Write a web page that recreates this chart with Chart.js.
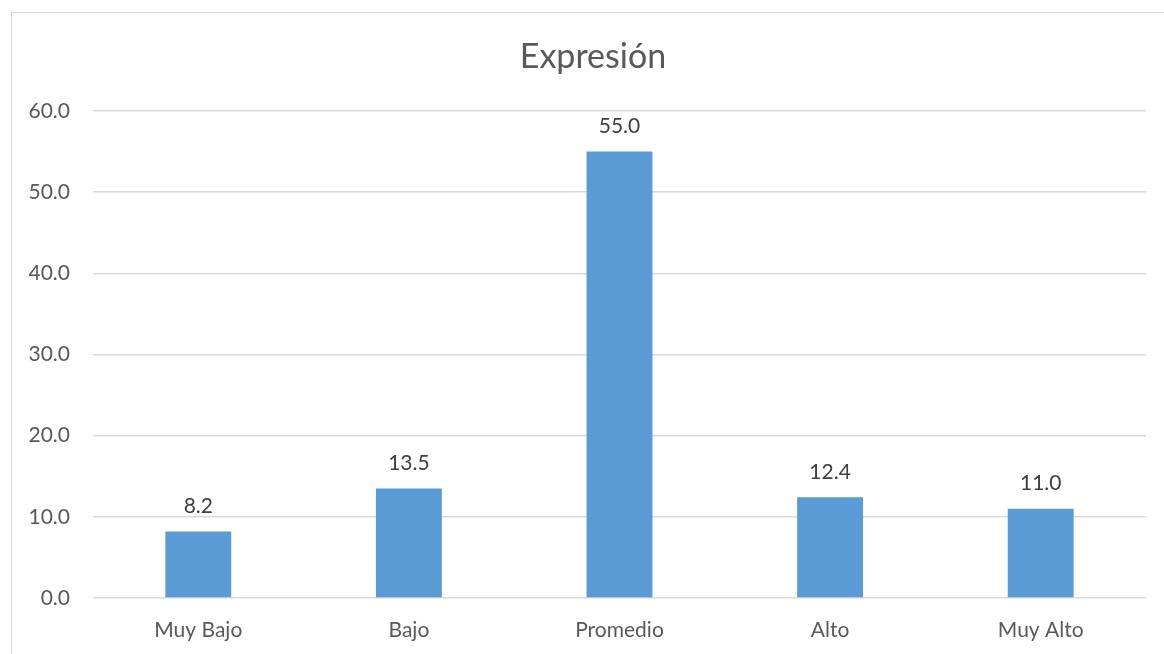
<!DOCTYPE html>
<html>
<head>
<meta charset="utf-8">
<script src="https://cdn.jsdelivr.net/npm/chart.js@4/dist/chart.umd.min.js"></script>
<style>
  body { margin: 0; background: #fff; }
  #wrap { width: 1164px; height: 654px; }
</style>
</head>
<body>
<div id="wrap"><canvas id="chart"></canvas></div>
<script>
const categories = ['Muy Bajo', 'Bajo', 'Promedio', 'Alto', 'Muy Alto'];
const values = [8.2, 13.5, 55.0, 12.4, 11.0];
const yTicks = [0, 10, 20, 30, 40, 50, 60];
const titleText = 'Expresión';

const FONT = 'Lato, "Open Sans", sans-serif';

// outer frame of the chart object (only left and top edges are visible) + title
const frame = {
    id: 'frame',
    beforeDraw(chart) {
        const ctx = chart.ctx;
        ctx.save();
        ctx.strokeStyle = '#d9d9d9';
        ctx.lineWidth = 1;
        ctx.strokeRect(11.5, 12.5, 1300, 800);
        ctx.font = '34px ' + FONT;
        ctx.fillStyle = '#595959';
        ctx.textAlign = 'center';
        ctx.textBaseline = 'middle';
        ctx.fillText(titleText, 593, 57);
        ctx.restore();
    }
};

// value labels above each bar
const barLabels = {
    id: 'barLabels',
    afterDatasetsDraw(chart) {
        const ctx = chart.ctx;
        const meta = chart.getDatasetMeta(0);
        ctx.save();
        ctx.font = '21px ' + FONT;
        ctx.fillStyle = '#404040';
        ctx.textAlign = 'center';
        ctx.textBaseline = 'middle';
        meta.data.forEach((bar, i) => {
            ctx.fillText(values[i].toFixed(1), bar.x, bar.y - 25);
        });
        ctx.restore();
    }
};

new Chart(document.getElementById('chart'), {
    type: 'bar',
    data: {
        labels: categories,
        datasets: [{
            data: values,
            backgroundColor: '#5b9bd5',
            borderWidth: 0,
            categoryPercentage: 1,
            barPercentage: 0.313
        }]
    },
    options: {
        responsive: true,
        maintainAspectRatio: false,
        animation: false,
        layout: { padding: { top: 111, right: 18, bottom: 0, left: 0 } },
        plugins: {
            legend: { display: false },
            tooltip: { enabled: false },
            title: { display: false }
        },
        scales: {
            x: {
                afterFit(scale) {
                    scale.height = 56;
                },
                grid: { display: false, drawTicks: false },
                border: { display: false },
                ticks: {
                    color: '#595959',
                    font: { family: FONT, size: 21 },
                    padding: 20
                }
            },
            y: {
                min: 0,
                max: 60,
                afterBuildTicks(scale) {
                    scale.ticks = yTicks.map(v => ({ value: v }));
                },
                afterFit(scale) {
                    scale.width = 93;
                },
                grid: { color: '#d9d9d9', lineWidth: 1.5, drawTicks: false },
                border: { display: false },
                ticks: {
                    color: '#595959',
                    font: { family: FONT, size: 21 },
                    padding: 23,
                    callback: v => Number(v).toFixed(1)
                }
            }
        }
    },
    plugins: [frame, barLabels]
});
</script>
</body>
</html>
